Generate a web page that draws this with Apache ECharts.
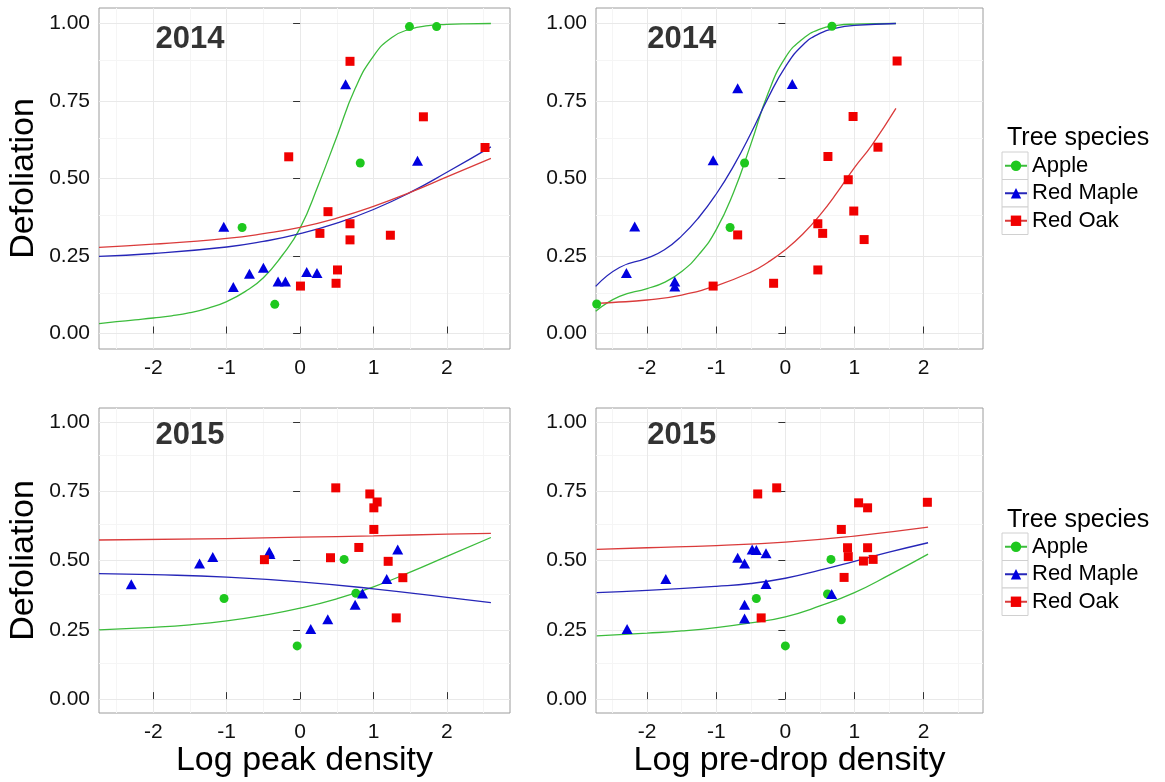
<!DOCTYPE html>
<html>
<head>
<meta charset="utf-8">
<script src="https://cdn.jsdelivr.net/npm/echarts@6/dist/echarts.min.js"></script>
<style>
  html, body { margin: 0; padding: 0; background: #ffffff; }
  #chart { width: 1165px; height: 782px; }
</style>
</head>
<body>
<div id="chart"></div>
<script>
// ---- labels and ticks ----
const species = ['Apple', 'Red Maple', 'Red Oak'];
const yearLabels = ['2014', '2015'];
const yearLabelPos = [-1.5, 0.95];
const xTitles = ['Log peak density', 'Log pre-drop density'];
const yTitle = 'Defoliation';
const legendTitle = 'Tree species';
const xRange = [-2.74, 2.86];
const yRange = [-0.05, 1.05];
const xTicks = [-2, -1, 0, 1, 2];
const yTicks = [0, 0.25, 0.5, 0.75, 1];
const xMinor = [-2.5, -1.5, -0.5, 0.5, 1.5, 2.5];
const yMinor = [0.125, 0.375, 0.625, 0.875];

// ---- observed defoliation vs log density, [x, y] ----
const peak14Apple = [[1.49, 0.99], [1.86, 0.99], [0.82, 0.55], [-0.79, 0.342], [-0.345, 0.094]];
const peak14Maple = [[-1.04, 0.344], [-0.91, 0.15], [-0.69, 0.193], [-0.50, 0.212], [-0.30, 0.168],
  [-0.20, 0.168], [0.09, 0.198], [0.23, 0.195], [0.62, 0.804], [1.60, 0.557]];
const peak14Oak = [[-0.155, 0.57], [0.005, 0.153], [0.27, 0.323], [0.38, 0.393], [0.51, 0.205],
  [0.49, 0.162], [0.68, 0.878], [0.68, 0.354], [0.68, 0.302], [1.23, 0.317], [1.68, 0.699], [2.52, 0.60]];

const pre14Apple = [[0.674, 0.991], [-0.59, 0.55], [-0.80, 0.342], [-2.73, 0.095]];
const pre14Maple = [[-0.69, 0.791], [0.10, 0.805], [-1.045, 0.559], [-2.18, 0.345], [-2.30, 0.195],
  [-1.60, 0.168], [-1.60, 0.152]];
const pre14Oak = [[1.617, 0.879], [0.98, 0.70], [1.34, 0.601], [0.616, 0.571], [0.91, 0.496],
  [0.99, 0.395], [0.47, 0.354], [0.54, 0.323], [1.14, 0.303], [-0.69, 0.318], [0.47, 0.205],
  [-0.17, 0.162], [-1.045, 0.153]];

const peak15Apple = [[0.60, 0.504], [-1.036, 0.363], [-0.04, 0.192], [0.76, 0.382]];
const peak15Maple = [[-2.30, 0.414], [-1.37, 0.489], [-1.19, 0.513], [-0.42, 0.532], [-0.41, 0.523],
  [0.145, 0.253], [0.377, 0.288], [0.75, 0.34], [0.85, 0.381], [1.18, 0.433], [1.33, 0.54]];
const peak15Oak = [[-0.486, 0.503], [0.486, 0.762], [0.95, 0.74], [1.05, 0.711], [1.005, 0.69],
  [1.005, 0.612], [0.414, 0.51], [0.80, 0.547], [1.2, 0.497], [1.40, 0.438], [1.31, 0.293]];

const pre15Apple = [[0.66, 0.504], [-0.42, 0.363], [0.0, 0.192], [0.61, 0.379], [0.81, 0.286]];
const pre15Maple = [[-2.29, 0.253], [-1.73, 0.433], [-0.69, 0.51], [-0.59, 0.489], [-0.48, 0.54],
  [-0.42, 0.538], [-0.28, 0.526], [-0.28, 0.415], [-0.59, 0.34], [-0.59, 0.291], [0.67, 0.379]];
const pre15Oak = [[-0.40, 0.74], [-0.125, 0.762], [2.055, 0.71], [1.06, 0.708], [1.19, 0.69],
  [0.81, 0.612], [0.90, 0.546], [0.91, 0.514], [1.19, 0.546], [1.13, 0.498], [1.27, 0.504],
  [0.85, 0.439], [-0.35, 0.293]];

// ---- fitted logistic curves, [x, y] ----
const fitPeak14Apple = [[-2.74, 0.032], [-2.5, 0.038], [-2.25, 0.044], [-2.0, 0.05], [-1.75, 0.057],
  [-1.5, 0.067], [-1.25, 0.082], [-1.0, 0.103], [-0.75, 0.135], [-0.5, 0.18], [-0.25, 0.25],
  [0, 0.34], [0.25, 0.48], [0.5, 0.635], [0.75, 0.79], [1.0, 0.895], [1.25, 0.955], [1.5, 0.982],
  [1.75, 0.993], [2.0, 0.997], [2.25, 0.999], [2.6, 1.0]];
const fitPeak14Maple = [[-2.74, 0.249], [-2.0, 0.258], [-1.0, 0.279], [-0.5, 0.297], [0, 0.322],
  [0.5, 0.356], [1.0, 0.40], [1.5, 0.455], [2.0, 0.52], [2.6, 0.602]];
const fitPeak14Oak = [[-2.74, 0.278], [-2.0, 0.288], [-1.0, 0.307], [-0.5, 0.322], [0, 0.342],
  [0.5, 0.372], [1.0, 0.41], [1.5, 0.455], [2.0, 0.505], [2.6, 0.565]];

const fitPre14Apple = [[-2.745, 0.072], [-2.4, 0.12], [-2.0, 0.145], [-1.75, 0.165], [-1.5, 0.20],
  [-1.25, 0.255], [-1.0, 0.335], [-0.75, 0.455], [-0.5, 0.61], [-0.25, 0.775], [0, 0.89],
  [0.25, 0.95], [0.5, 0.982], [0.75, 0.994], [1.0, 0.998], [1.6, 1.0]];
const fitPre14Maple = [[-2.745, 0.152], [-2.4, 0.213], [-2.0, 0.243], [-1.75, 0.27], [-1.5, 0.315],
  [-1.25, 0.375], [-1.0, 0.45], [-0.75, 0.54], [-0.5, 0.645], [-0.25, 0.76], [0, 0.86],
  [0.25, 0.93], [0.5, 0.968], [0.75, 0.986], [1.0, 0.994], [1.6, 1.0]];
const fitPre14Oak = [[-2.745, 0.097], [-2.5, 0.10], [-2.0, 0.108], [-1.5, 0.124], [-1.0, 0.154],
  [-0.5, 0.198], [-0.25, 0.23], [0, 0.27], [0.25, 0.32], [0.5, 0.382], [0.75, 0.455],
  [1.0, 0.535], [1.25, 0.607], [1.6, 0.726]];

const fitPeak15Apple = [[-2.74, 0.25], [-2.0, 0.259], [-1.5, 0.268], [-1.0, 0.282], [-0.5, 0.302],
  [0, 0.328], [0.5, 0.362], [1.0, 0.405], [1.5, 0.458], [2.0, 0.515], [2.6, 0.583]];
const fitPeak15Maple = [[-2.74, 0.453], [-2.0, 0.449], [-1.0, 0.44], [0, 0.423], [1.0, 0.398],
  [2.0, 0.367], [2.6, 0.348]];
const fitPeak15Oak = [[-2.74, 0.574], [-1.0, 0.579], [0, 0.584], [1.0, 0.589], [2.0, 0.595], [2.6, 0.598]];

const fitPre15Apple = [[-2.73, 0.228], [-2.0, 0.238], [-1.5, 0.246], [-1.0, 0.258], [-0.5, 0.275],
  [0, 0.297], [0.5, 0.336], [1.0, 0.384], [1.5, 0.447], [2.065, 0.523]];
const fitPre15Maple = [[-2.73, 0.384], [-2.0, 0.392], [-1.0, 0.407], [-0.5, 0.417], [0, 0.436],
  [0.5, 0.465], [1.0, 0.497], [1.5, 0.53], [2.065, 0.564]];
const fitPre15Oak = [[-2.73, 0.54], [-2.0, 0.546], [-1.0, 0.554], [0, 0.566], [1.0, 0.588], [2.065, 0.62]];

// ---- panel assembly ----
const panels = [
  { points: [peak14Apple, peak14Maple, peak14Oak], fits: [fitPeak14Apple, fitPeak14Maple, fitPeak14Oak], year: yearLabels[0], xTitle: '', yTitle: yTitle },
  { points: [pre14Apple, pre14Maple, pre14Oak], fits: [fitPre14Apple, fitPre14Maple, fitPre14Oak], year: yearLabels[0], xTitle: '', yTitle: '' },
  { points: [peak15Apple, peak15Maple, peak15Oak], fits: [fitPeak15Apple, fitPeak15Maple, fitPeak15Oak], year: yearLabels[1], xTitle: xTitles[0], yTitle: yTitle },
  { points: [pre15Apple, pre15Maple, pre15Oak], fits: [fitPre15Apple, fitPre15Maple, fitPre15Oak], year: yearLabels[1], xTitle: xTitles[1], yTitle: '' }
];

const FONT = '"Liberation Sans", Arial, Helvetica, sans-serif';
const pointColors = ['#1ec81e', '#0000e0', '#f00000'];
const lineColors = ['#3cbc3c', '#2626b8', '#da3b3b'];
const symbols = ['circle', 'triangle', 'rect'];
const symbolSizes = [9, [11, 10], 9];

const gridBoxes = [
  { left: 99, top: 8, width: 411, height: 341 },
  { left: 596, top: 8, width: 387, height: 341 },
  { left: 99, top: 408, width: 411, height: 305 },
  { left: 596, top: 408, width: 387, height: 305 }
];

const grids = [], xAxes = [], yAxes = [], series = [];

panels.forEach((p, i) => {
  grids.push(Object.assign({ show: true, borderColor: '#9c9c9c', borderWidth: 1, backgroundColor: '#ffffff' }, gridBoxes[i]));

  xAxes.push({
    type: 'value', gridIndex: i, min: xRange[0], max: xRange[1],
    axisLine: { show: false },
    axisTick: { show: true, inside: true, length: 7, customValues: xTicks, lineStyle: { color: '#333', width: 1 } },
    axisLabel: { customValues: xTicks, margin: 9, fontSize: 21, color: '#111', fontFamily: FONT, formatter: v => String(v) },
    splitLine: { show: false },
    name: p.xTitle, nameLocation: 'middle', nameGap: 30,
    nameTextStyle: { fontSize: 34, color: '#000', fontFamily: FONT }
  });

  yAxes.push({
    type: 'value', gridIndex: i, min: yRange[0], max: yRange[1],
    axisLine: { show: false },
    axisTick: { show: true, inside: false, length: 7, customValues: yTicks, lineStyle: { color: '#333', width: 1 } },
    axisLabel: { customValues: yTicks, margin: 9, fontSize: 21, color: '#111', fontFamily: FONT, formatter: v => v.toFixed(2) },
    splitLine: { show: false },
    name: p.yTitle, nameLocation: 'middle', nameGap: 58, nameRotate: 90,
    nameTextStyle: { fontSize: 34, color: '#000', fontFamily: FONT }
  });

  // background grid lines, major and minor, kept beneath the marks
  const major = { color: '#e9e9e9', width: 1, type: 'solid' };
  const minor = { color: '#f5f5f5', width: 1, type: 'solid' };
  series.push({
    type: 'line', xAxisIndex: i, yAxisIndex: i, z: 0, silent: true,
    data: [[xRange[0], yRange[0]]], showSymbol: false, lineStyle: { opacity: 0 },
    markLine: {
      z: 0, silent: true, symbol: ['none', 'none'], animation: false, label: { show: false },
      emphasis: { disabled: true },
      data: [
        ...xMinor.map(v => ({ xAxis: v, lineStyle: minor })),
        ...yMinor.map(v => ({ yAxis: v, lineStyle: minor })),
        ...xTicks.map(v => ({ xAxis: v, lineStyle: major })),
        ...yTicks.map(v => ({ yAxis: v, lineStyle: major }))
      ]
    }
  });

  // fitted curves
  species.forEach((name, s) => {
    series.push({
      type: 'line', name: name, xAxisIndex: i, yAxisIndex: i, z: 2,
      data: p.fits[s], smooth: 0.5,
      symbol: symbols[s], symbolSize: symbolSizes[s], showSymbol: false,
      itemStyle: { color: pointColors[s] },
      lineStyle: { color: lineColors[s], width: 1.3 },
      animation: false, silent: true
    });
  });

  // observed points
  species.forEach((name, s) => {
    series.push({
      type: 'scatter', name: name, xAxisIndex: i, yAxisIndex: i, z: 3,
      data: p.points[s], symbol: symbols[s], symbolSize: symbolSizes[s],
      itemStyle: { color: pointColors[s], opacity: 1 },
      animation: false
    });
  });

  // year annotation
  series.push({
    type: 'scatter', xAxisIndex: i, yAxisIndex: i, z: 4, silent: true,
    data: [yearLabelPos], symbolSize: 1, itemStyle: { color: 'rgba(0,0,0,0)' },
    label: { show: true, position: 'inside', formatter: p.year, fontSize: 31, fontWeight: 'bold', color: '#000', textBorderWidth: 0, fontFamily: FONT },
    animation: false
  });
});

// legend key boxes
const legendTops = [152, 533];
const keyH = 27.5;
const graphics = [];
legendTops.forEach(t => {
  species.forEach((_, k) => {
    graphics.push({
      type: 'rect', z: 0, silent: true,
      shape: { x: 1002, y: t + k * keyH, width: 26, height: keyH },
      style: { fill: '#ffffff', stroke: '#d0d0d0', lineWidth: 1 }
    });
  });
});

const legends = legendTops.map(t => ({
  data: species, orient: 'vertical', left: 1004, top: t, padding: 0,
  itemWidth: 22, itemHeight: 13, itemGap: 0,
  textStyle: { fontSize: 22, color: '#000', fontFamily: FONT, lineHeight: keyH },
  selectedMode: false
}));

const titles = [126, 508].map(t => ({
  text: legendTitle, left: 1007, top: t, padding: 0,
  textStyle: { fontSize: 25, fontWeight: 'normal', color: '#000', fontFamily: FONT }
}));

const chart = echarts.init(document.getElementById('chart'), null, { renderer: 'canvas' });
chart.setOption({
  backgroundColor: '#ffffff',
  animation: false,
  title: titles,
  legend: legends,
  grid: grids,
  xAxis: xAxes,
  yAxis: yAxes,
  graphic: graphics,
  series: series
});
</script>
</body>
</html>
